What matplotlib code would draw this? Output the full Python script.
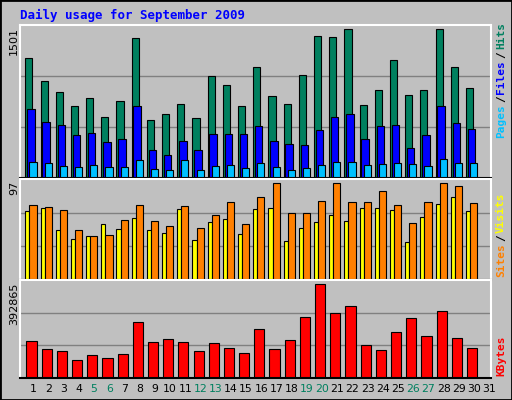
import matplotlib
matplotlib.use("Agg")
import matplotlib.pyplot as plt
from matplotlib.patches import Rectangle
import numpy as np

days = list(range(1, 32))
hits = [1216, 981, 869, 727, 808, 615, 778, 1409, 584, 645, 747, 604, 1032, 941, 727,
        1124, 829, 747, 1043, 1430, 1420, 1501, 737, 890, 1195, 839, 890, 1501, 1124, 910]
files = [696, 564, 533, 431, 452, 360, 391, 727, 278, 228, 370, 278, 441, 441, 441,
         523, 370, 340, 329, 482, 615, 645, 391, 523, 533, 299, 431, 727, 554, 492]
pages = [166, 156, 126, 115, 136, 115, 115, 177, 95, 85, 177, 85, 126, 136, 105,
         156, 115, 85, 105, 136, 166, 166, 136, 146, 156, 146, 126, 187, 156, 156]
sites = [69, 72, 50, 41, 44, 56, 51, 62, 50, 47, 71, 40, 58, 61, 46,
         71, 72, 39, 52, 58, 65, 59, 72, 72, 70, 38, 63, 76, 83, 69]
visits = [75, 73, 70, 50, 44, 45, 60, 75, 59, 54, 74, 52, 65, 78, 56,
          83, 97, 67, 67, 79, 97, 78, 78, 89, 75, 57, 78, 97, 94, 77]
kbytes = [156306, 121890, 113286, 74568, 96078, 83172, 100380, 233742, 152004, 164910,
          152004, 113286, 147702, 126192, 104682, 203628, 121890, 160608, 255252, 392865,
          272460, 302574, 139098, 117588, 190722, 250950, 173514, 281064, 169212, 126192]
weekend = [5, 6, 12, 13, 19, 20, 26, 27]

BG = "#C0C0C0"
C_HITS, C_FILES, C_PAGES = "#00805F", "#0000FF", "#00C0FF"
C_SITES, C_VISITS, C_KB = "#FFFF00", "#FF8000", "#FF0000"
W, H = 512, 400
fig = plt.figure(figsize=(5.12, 4.0), dpi=100, facecolor=BG)
fig.patches.append(Rectangle((0, 0), 1, 1, transform=fig.transFigure, fill=False,
                             edgecolor="black", linewidth=2))

def ax_at(x0, y0, x1, y1):
    return fig.add_axes([x0 / W, 1 - y1 / H, (x1 - x0) / W, (y1 - y0) / H])

n = len(hits)
x = np.arange(n)
ek = dict(edgecolor="black", linewidth=0.8, align="edge")

def style(ax, top):
    ax.set_facecolor(BG)
    ax.set_xlim(0, 31)
    ax.set_ylim(0, top)
    for g in (top / 3, 2 * top / 3):
        ax.axhline(g, color="#808080", linewidth=1, zorder=0)
    ax.set_xticks([]); ax.set_yticks([])
    for s in ax.spines.values():
        s.set_color("white"); s.set_linewidth(1.5)
    ax.spines["bottom"].set_color("black")

a1 = ax_at(20, 25, 491, 178)
style(a1, 1545)
a1.bar(x + 0.35, hits, 0.47, color=C_HITS, **ek)
a1.bar(x + 0.47, files, 0.49, color=C_FILES, **ek)
a1.bar(x + 0.62, pages, 0.47, color=C_PAGES, **ek)

a2 = ax_at(20, 179, 491, 280)
style(a2, 101.4)
a2.bar(x + 0.35, sites, 0.27, color=C_SITES, **ek)
a2.bar(x + 0.62, visits, 0.47, color=C_VISITS, **ek)

a3 = ax_at(20, 280, 491, 378)
style(a3, 409600)
a3.bar(x + 0.42, kbytes, 0.67, color=C_KB, **ek)

for d in days:
    fig.text((20 + (d - 1 + 0.87) * 15.2) / W, 1 - 389 / H, str(d),
             color=C_HITS if d in weekend else "black", ha="center", va="center",
             fontsize=7.8, family="DejaVu Sans")

fig.text(20 / W, 1 - 15 / H, "Daily usage for September 2009", color="#0000FF",
         fontsize=9, fontweight="bold", family="DejaVu Sans Mono", va="center")

for label, ytop in (("1501", 27), ("97", 181), ("392865", 283)):
    fig.text(14 / W, 1 - ytop / H, label, rotation=90, ha="center", va="top",
             fontsize=8, family="DejaVu Sans")

fig.canvas.draw()
renderer = fig.canvas.get_renderer()

def right_label(parts, ybot):
    y = ybot
    for txt, col in parts:
        t = fig.text(501 / W, 1 - y / H, txt, rotation=90, ha="center", va="bottom",
                     color=col, fontsize=8, fontweight="bold", family="DejaVu Sans Mono")
        bb = t.get_window_extent(renderer)
        y -= bb.height + 2

right_label([("Pages", C_PAGES), ("/", "black"), ("Files", C_FILES), ("/", "black"), ("Hits", C_HITS)], 138)
right_label([("Sites", C_VISITS), ("/", "black"), ("Visits", C_SITES)], 277)
right_label([("KBytes", C_KB)], 376)

fig.savefig("out.png", dpi=100, facecolor=BG)
